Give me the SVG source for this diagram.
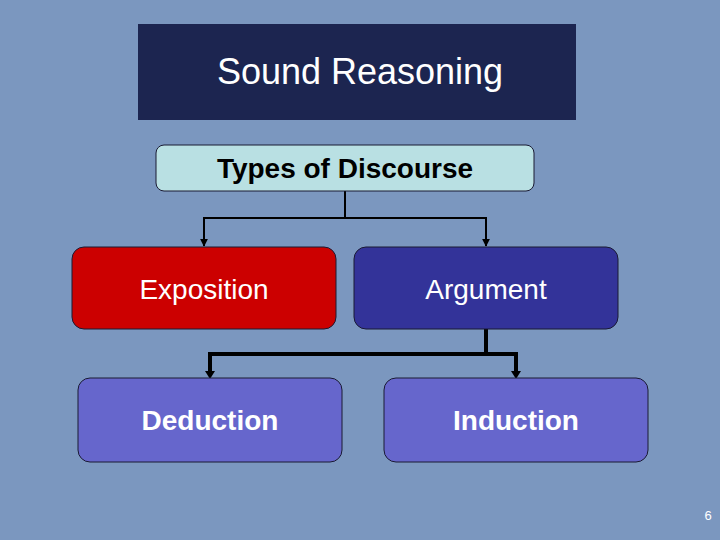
<svg xmlns="http://www.w3.org/2000/svg" width="720" height="540" viewBox="0 0 720 540">
<defs>
<style>
.lbl{font-family:"Liberation Sans",Arial,sans-serif;text-anchor:middle;fill:#ffffff}
.box{stroke:#1a1a33;stroke-width:1}
.ln{fill:none;stroke:#000000}
</style>
<marker id="ah2" viewBox="0 0 10 10" refX="9" refY="5" markerWidth="8" markerHeight="8" orient="auto" markerUnits="userSpaceOnUse">
<path d="M0,0 L10,5 L0,10 z" fill="#000"/>
</marker>
</defs>
<rect width="720" height="540" fill="#7b97bf"/>
<g id="title">
<rect x="138" y="24" width="438" height="96" fill="#1c2550"/>
<text class="lbl" x="360" y="84" font-size="36">Sound Reasoning</text>
</g>
<g id="connectors">
<polyline class="ln" stroke-width="2" points="345,191 345,218 204,218 204,246" marker-end="url(#ah2)"/>
<polyline class="ln" stroke-width="2" points="345,218 486,218 486,246" marker-end="url(#ah2)"/>
<polyline class="ln" stroke-width="4" points="486,329 486,354 210,354 210,372"/>
<polyline class="ln" stroke-width="4" points="486,354 516,354 516,372"/>
<path d="M205,371 L215,371 L210,379 z" fill="#000"/>
<path d="M511,371 L521,371 L516,379 z" fill="#000"/>
</g>
<g id="types">
<rect class="box" x="156" y="145" width="378" height="46" rx="8" fill="#b9e0e3" stroke="#333"/>
<text x="345" y="178" font-size="28" font-weight="bold" text-anchor="middle" font-family="Liberation Sans,Arial,sans-serif" fill="#000">Types of Discourse</text>
</g>
<g id="exposition">
<rect class="box" x="72" y="247" width="264" height="82" rx="12" fill="#cc0000"/>
<text class="lbl" x="204" y="299" font-size="28">Exposition</text>
</g>
<g id="argument">
<rect class="box" x="354" y="247" width="264" height="82" rx="12" fill="#333399"/>
<text class="lbl" x="486" y="299" font-size="28">Argument</text>
</g>
<g id="deduction">
<rect class="box" x="78" y="378" width="264" height="84" rx="12" fill="#6666cc"/>
<text class="lbl" x="210" y="430" font-size="28" font-weight="bold">Deduction</text>
</g>
<g id="induction">
<rect class="box" x="384" y="378" width="264" height="84" rx="12" fill="#6666cc"/>
<text class="lbl" x="516" y="430" font-size="28" font-weight="bold">Induction</text>
</g>
<text class="lbl" x="708" y="520" font-size="13" fill="#eef">6</text>
</svg>
